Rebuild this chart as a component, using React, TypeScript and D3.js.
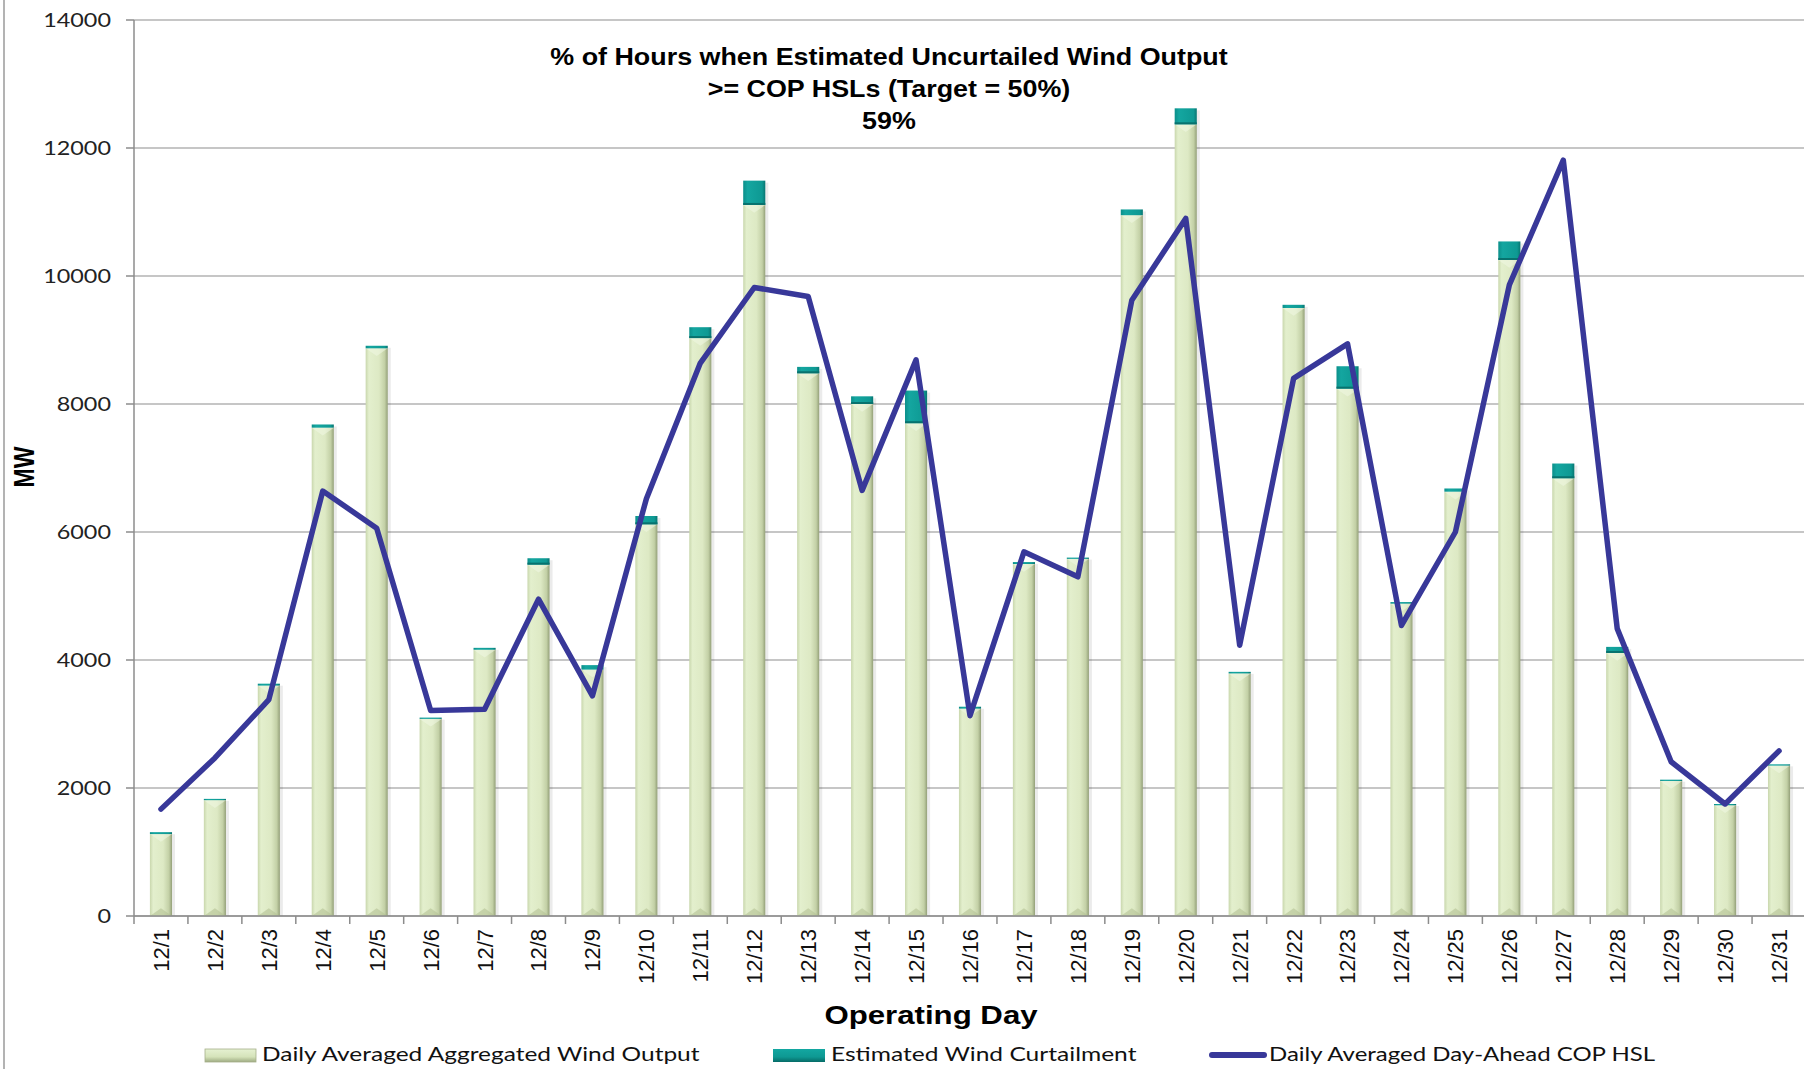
import React from 'react';
import * as d3 from 'd3';

// operating days, December
const days = [
  '12/1', '12/2', '12/3', '12/4', '12/5', '12/6', '12/7', '12/8', '12/9', '12/10',
  '12/11', '12/12', '12/13', '12/14', '12/15', '12/16', '12/17', '12/18', '12/19', '12/20',
  '12/21', '12/22', '12/23', '12/24', '12/25', '12/26', '12/27', '12/28', '12/29', '12/30', '12/31',
];

// Daily Averaged Aggregated Wind Output (MW)
const windOutput = [
  1280, 1810, 3600, 7630, 8870, 3080, 4160, 5490, 3850, 6120,
  9030, 11110, 8480, 8000, 7700, 3240, 5500, 5580, 10950, 12370,
  3790, 9500, 8240, 4880, 6630, 10250, 6840, 4110, 2110, 1730, 2350,
];

// Estimated Wind Curtailment (MW), stacked on top
const curtailment = [
  30, 20, 30, 50, 40, 20, 30, 100, 70, 130,
  170, 380, 100, 120, 510, 30, 30, 20, 90, 250,
  25, 50, 350, 25, 50, 290, 230, 95, 20, 20, 20,
];

// Daily Averaged Day-Ahead COP HSL (MW)
const copHsl = [
  1670, 2470, 3380, 6640, 6060, 3210, 3230, 4950, 3440, 6520,
  8640, 9820, 9680, 6650, 8690, 3130, 5690, 5300, 9620, 10900,
  4230, 8400, 8940, 4540, 6000, 9860, 11810, 4490, 2410, 1750, 2580,
];

const yTicks = [0, 2000, 4000, 6000, 8000, 10000, 12000, 14000];

const titleLines = [
  '% of Hours when Estimated Uncurtailed Wind Output',
  '>= COP HSLs (Target = 50%)',
  '59%',
];

const W = 1804;
const H = 1069;
const left = 134;
const right = 1806;
const top = 20;
const bottom = 916;

const lineColor = '#383899';

const App = () => {
  const x = d3.scaleBand().domain(days).range([left, right]).padding(0);
  const y = d3.scaleLinear().domain([0, 14000]).range([bottom, top]);
  const bw = x.bandwidth() * 0.41;

  const line = d3
    .line<number>()
    .x((d, i) => (x(days[i]) as number) + x.bandwidth() / 2)
    .y((d) => y(d));

  const sans = '"Liberation Sans", Arial, sans-serif';
  const cal = 'Lato, "Open Sans", sans-serif';

  return (
    <svg
      width={W}
      height={H}
      style={{ position: 'absolute', left: 0, top: 0, display: 'block', background: '#fff' }}
    >
      <defs>
        <linearGradient id="gBar" x1="0" x2="1" y1="0" y2="0">
          <stop offset="0" stopColor="#c9d7ad" />
          <stop offset="0.15" stopColor="#e3efcd" />
          <stop offset="0.6" stopColor="#dde9c4" />
          <stop offset="0.86" stopColor="#c3d0a6" />
          <stop offset="1" stopColor="#939f78" />
        </linearGradient>
        <linearGradient id="gTeal" x1="0" x2="1" y1="0" y2="0">
          <stop offset="0" stopColor="#0b8f8a" />
          <stop offset="0.2" stopColor="#14a6a0" />
          <stop offset="0.85" stopColor="#0e9993" />
          <stop offset="1" stopColor="#087571" />
        </linearGradient>
        <linearGradient id="gLegGreen" x1="0" x2="0" y1="0" y2="1">
          <stop offset="0" stopColor="#e6f1d2" />
          <stop offset="0.6" stopColor="#d5e3ba" />
          <stop offset="1" stopColor="#9eab82" />
        </linearGradient>
        <linearGradient id="gLegTeal" x1="0" x2="0" y1="0" y2="1">
          <stop offset="0" stopColor="#13a7a1" />
          <stop offset="0.6" stopColor="#0e9993" />
          <stop offset="1" stopColor="#066b67" />
        </linearGradient>
      </defs>

      {/* outer chart border */}
      <line x1={4} x2={4} y1={0} y2={H} stroke="#9a9a9a" strokeWidth={1.5} />

      {/* gridlines + y axis */}
      {yTicks.map((t) => (
        <g key={t}>
          <line x1={left} x2={W} y1={y(t)} y2={y(t)} stroke="#b3b3b3" strokeWidth={1.6} />
          <line x1={left - 8} x2={left} y1={y(t)} y2={y(t)} stroke="#8c8c8c" strokeWidth={1.5} />
          <text
            transform={`translate(111,${y(t)}) scale(1.17,1)`}
            textAnchor="end"
            dy="0.36em"
            fontFamily={cal}
            fontSize={20}
            fill="#222"
          >
            {t}
          </text>
        </g>
      ))}
      <line x1={left} x2={left} y1={top} y2={bottom} stroke="#8c8c8c" strokeWidth={1.5} />

      {/* bars */}
      {days.map((d, i) => {
        const cx = (x(d) as number) + x.bandwidth() / 2;
        const x0 = cx - bw / 2;
        const gTop = y(windOutput[i]);
        const tTop = y(windOutput[i] + curtailment[i]);
        const bev = Math.min(bw * 0.35, (bottom - gTop) / 2);
        return (
          <g key={d}>
            <rect x={x0 + bw} y={tTop + 2} width={3} height={bottom - tTop - 2} fill="#000" opacity={0.08} />
            <rect x={x0} y={gTop} width={bw} height={bottom - gTop} fill="url(#gBar)" />
            <polygon
              points={`${x0},${gTop} ${x0 + bw},${gTop} ${cx},${gTop + bev}`}
              fill="#f1f8e3"
              opacity={0.55}
            />
            <polygon
              points={`${x0},${bottom} ${x0 + bw},${bottom} ${cx},${bottom - bev}`}
              fill="#b4c194"
              opacity={0.6}
            />
            <rect x={x0} y={tTop} width={bw} height={gTop - tTop} fill="url(#gTeal)" />
            {gTop - tTop > 6 && (
              <rect x={x0} y={gTop - 2} width={bw} height={2} fill="#08726e" />
            )}
          </g>
        );
      })}

      {/* x axis */}
      <line x1={left} x2={W} y1={bottom} y2={bottom} stroke="#8c8c8c" strokeWidth={1.5} />
      {days.map((d) => (
        <line
          key={'t' + d}
          x1={x(d) as number}
          x2={x(d) as number}
          y1={bottom}
          y2={bottom + 8}
          stroke="#8c8c8c"
          strokeWidth={1.5}
        />
      ))}
      {days.map((d) => (
        <text
          key={'l' + d}
          transform={`translate(${(x(d) as number) + x.bandwidth() / 2},929) rotate(-90)`}
          textAnchor="end"
          dy="0.36em"
          fontFamily={sans}
          fontSize={22}
          fill="#111"
        >
          {d}
        </text>
      ))}

      {/* COP HSL line */}
      <path
        d={line(copHsl) as string}
        fill="none"
        stroke={lineColor}
        strokeWidth={5.5}
        strokeLinejoin="round"
        strokeLinecap="round"
      />

      {/* title */}
      {titleLines.map((t, i) => (
        <text
          key={t}
          transform={`translate(889,${65 + i * 32}) scale(1.12,1)`}
          textAnchor="middle"
          fontFamily={sans}
          fontWeight="bold"
          fontSize={24}
          fill="#000"
        >
          {t}
        </text>
      ))}

      {/* axis titles */}
      <text
        transform={`translate(34,467) scale(1.3,1) rotate(-90)`}
        textAnchor="middle"
        fontFamily={sans}
        fontWeight="bold"
        fontSize={23}
        fill="#000"
      >
        MW
      </text>
      <text
        transform={`translate(931,1024) scale(1.2,1)`}
        textAnchor="middle"
        fontFamily={sans}
        fontWeight="bold"
        fontSize={26}
        fill="#000"
      >
        Operating Day
      </text>

      {/* legend */}
      <g>
        <rect x={205} y={1049} width={51} height={13} fill="url(#gLegGreen)" stroke="#a5b08a" strokeWidth={0.8} />
        <text transform="translate(262,1061) scale(1.255,1)" fontFamily={cal} fontSize={19.5} fill="#111">
          Daily Averaged Aggregated Wind Output
        </text>
        <rect x={773} y={1049} width={52} height={13} fill="url(#gLegTeal)" />
        <text transform="translate(831,1061) scale(1.26,1)" fontFamily={cal} fontSize={19.5} fill="#111">
          Estimated Wind Curtailment
        </text>
        <line x1={1212} x2={1264} y1={1055} y2={1055} stroke={lineColor} strokeWidth={6} strokeLinecap="round" />
        <text transform="translate(1269,1061) scale(1.23,1)" fontFamily={cal} fontSize={19.5} fill="#111">
          Daily Averaged Day-Ahead COP HSL
        </text>
      </g>
    </svg>
  );
};

export default App;
